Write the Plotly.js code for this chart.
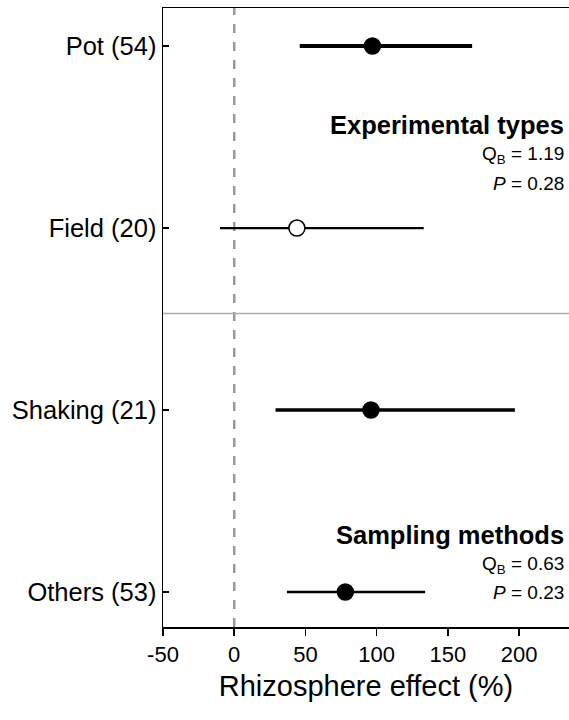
<!DOCTYPE html>
<html><head><meta charset="utf-8">
<script src="https://cdn.plot.ly/plotly-3.0.1.min.js"></script>
<style>body{margin:0;padding:0;background:#fff}#chart{width:569px;height:720px}</style>
</head><body><div id="chart"></div>
<script>
const categories = ["Pot (54)", "Field (20)", "Shaking (21)", "Others (53)"];
const means = [97, 44, 96, 78];
const lower = [46, -10, 29, 37];
const upper = [167, 133, 197, 134];
const filled = [true, false, true, true];
const lineWidths = [4, 2.2, 3.5, 2.6];
const groupTitles = ["Experimental types", "Sampling methods"];
const qbValues = ["1.19", "0.63"];
const pValues = ["0.28", "0.23"];

const font = "Liberation Sans, Arial, sans-serif";
const traces = categories.map((c, i) => ({
  type: 'scatter', mode: 'markers',
  x: [means[i]], y: [i],
  marker: {size: 16, color: filled[i] ? 'black' : 'white', line: {color: 'black', width: 1.5}},
  error_x: {type: 'data', symmetric: false, array: [upper[i] - means[i]], arrayminus: [means[i] - lower[i]],
            width: 0, thickness: lineWidths[i], color: 'black'},
  showlegend: false, hoverinfo: 'skip'
}));

const annotations = [];
const groupY = [[0.434, 0.6, 0.755], [2.687, 2.85, 3.005]];
groupTitles.forEach((t, g) => {
  annotations.push({xref: 'paper', x: 1, xanchor: 'right', xshift: -3, yref: 'y', y: groupY[g][0],
    text: '<b>' + t + '</b>', showarrow: false, font: {family: font, size: 25.5, color: 'black'}});
  annotations.push({xref: 'paper', x: 1, xanchor: 'right', xshift: -3, yref: 'y', y: groupY[g][1],
    text: 'Q<sub>B</sub> = ' + qbValues[g], showarrow: false, font: {family: font, size: 19, color: 'black'}});
  annotations.push({xref: 'paper', x: 1, xanchor: 'right', xshift: -3, yref: 'y', y: groupY[g][2],
    text: '<i>P</i> = ' + pValues[g], showarrow: false, font: {family: font, size: 19, color: 'black'}});
});

const layout = {
  width: 569, height: 720,
  margin: {l: 163, r: 0, t: 8, b: 93},
  paper_bgcolor: 'white', plot_bgcolor: 'white',
  font: {family: font, color: 'black', size: 22},
  xaxis: {range: [-50, 235], tickvals: [-50, 0, 50, 100, 150, 200], ticktext: ['-50','0','50','100','150','200'],
          showgrid: false, zeroline: false, showline: true, linecolor: 'black', linewidth: 1.5, mirror: true,
          ticks: 'outside', ticklen: 7, tickwidth: 1.5, tickcolor: 'black',
          tickfont: {family: font, size: 22, color: 'black'},
          title: {text: 'Rhizosphere effect (%)', font: {family: font, size: 29, color: 'black'}, standoff: 10}},
  yaxis: {range: [3.192, -0.209], tickvals: [0, 1, 2, 3], ticktext: categories,
          showgrid: false, zeroline: false, showline: true, linecolor: 'black', linewidth: 1.5,
          ticks: 'inside', ticklen: 6, tickwidth: 1.5, tickcolor: 'black',
          tickfont: {family: font, size: 25.5, color: 'black'}},
  shapes: [
    {type: 'line', xref: 'x', x0: 0, x1: 0, yref: 'paper', y0: 0, y1: 1, line: {color: '#999', width: 2.5, dash: 'dash'}, layer: 'below'},
    {type: 'line', xref: 'paper', x0: 0, x1: 1, yref: 'y', y0: 1.47, y1: 1.47, line: {color: '#aaa', width: 1.5}, layer: 'below'}
  ],
  annotations: annotations
};
Plotly.newPlot('chart', traces, layout, {displayModeBar: false, staticPlot: true});
</script></body></html>
